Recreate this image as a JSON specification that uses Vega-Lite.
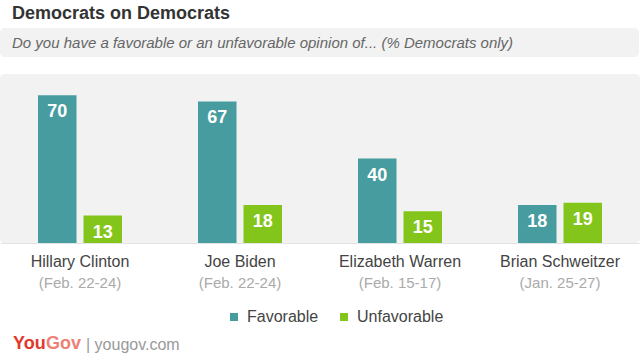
{
  "$schema": "https://vega.github.io/schema/vega-lite/v6.json",
  "padding": {"top": 5, "left": 0, "right": 0, "bottom": 0},
  "background": "white",
  "config": {
    "view": {"stroke": null},
    "font": "Liberation Sans",
    "title": {"font": "Liberation Sans"}
  },
  "title": {
    "text": "Democrats  on Democrats",
    "anchor": "start",
    "dx": 12,
    "fontSize": 18,
    "fontWeight": "bold",
    "color": "#333333",
    "offset": 5
  },
  "spacing": 10,
  "resolve": {"scale": {"color": "independent"}, "legend": {"color": "independent"}},
  "vconcat": [
    {
      "spacing": 17,
      "resolve": {"scale": {"color": "independent"}, "legend": {"color": "independent"}},
      "vconcat": [
        {
          "width": 639,
          "height": 29,
          "view": {"fill": "#f2f2f2", "cornerRadius": 5, "stroke": null},
          "title": {
            "text": "Do you have a favorable or an unfavorable opinion of... (% Democrats only)",
            "anchor": "start",
            "orient": "top",
            "offset": -23,
            "dx": 12,
            "fontSize": 15,
            "fontStyle": "italic",
            "fontWeight": "normal",
            "color": "#666666"
          },
          "data": {"values": [{"box": "subtitle"}]},
          "mark": {"type": "rect", "fill": "#f2f2f2", "cornerRadius": 5},
          "encoding": {}
        },
        {
          "width": 640,
          "height": 169,
          "view": {"fill": "#f2f2f2", "cornerRadius": 4, "stroke": null},
          "data": {
            "values": [
              {"label": "Hillary Clinton|(Feb. 22-24)", "opinion": "Favorable", "value": 70},
              {"label": "Hillary Clinton|(Feb. 22-24)", "opinion": "Unfavorable", "value": 13},
              {"label": "Joe Biden|(Feb. 22-24)", "opinion": "Favorable", "value": 67},
              {"label": "Joe Biden|(Feb. 22-24)", "opinion": "Unfavorable", "value": 18},
              {"label": "Elizabeth Warren|(Feb. 15-17)", "opinion": "Favorable", "value": 40},
              {"label": "Elizabeth Warren|(Feb. 15-17)", "opinion": "Unfavorable", "value": 15},
              {"label": "Brian Schweitzer|(Jan. 25-27)", "opinion": "Favorable", "value": 18},
              {"label": "Brian Schweitzer|(Jan. 25-27)", "opinion": "Unfavorable", "value": 19}
            ]
          },
          "layer": [
            {
              "mark": {"type": "bar"},
              "encoding": {
                "x": {
                  "field": "label", "type": "nominal", "sort": null,
                  "scale": {"paddingInner": 0.475, "paddingOuter": 0.2375},
                  "axis": {
                    "orient": "bottom", "title": null, "labelAngle": 0,
                    "ticks": false, "tickSize": 0, "domain": true, "domainColor": "#e4e4e4", "domainWidth": 1,
                    "labelExpr": "split(datum.value, '|')[0]",
                    "labelFontSize": 16, "labelColor": "#444444", "labelPadding": 10, "labelFont": "Liberation Sans"
                  }
                },
                "xOffset": {"field": "opinion", "type": "nominal", "sort": ["Favorable", "Unfavorable"], "scale": {"paddingInner": 0.154, "paddingOuter": 0}},
                "y": {"field": "value", "type": "quantitative", "scale": {"domain": [0, 80]}, "axis": null},
                "color": {
                  "field": "opinion", "type": "nominal",
                  "scale": {"domain": ["Favorable", "Unfavorable"], "range": ["#479c9f", "#84c51c"]},
                  "legend": {
                    "title": null, "orient": "none", "direction": "horizontal",
                    "legendX": 226, "legendY": 235,
                    "symbolType": "square", "symbolSize": 64, "symbolStrokeWidth": 0,
                    "labelFontSize": 16, "labelColor": "#444444", "labelOffset": 5,
                    "columnPadding": 17, "padding": 0, "labelFont": "Liberation Sans"
                  }
                }
              }
            },
            {
              "mark": {"type": "text", "baseline": "middle", "dy": 17, "color": "white", "fontSize": 18, "fontWeight": "bold"},
              "encoding": {
                "x": {
                  "field": "label", "type": "nominal", "sort": null,
                  "scale": {"paddingInner": 0.475, "paddingOuter": 0.2375},
                  "axis": {
                    "orient": "bottom", "title": null, "labelAngle": 0,
                    "ticks": false, "tickSize": 0, "domain": false,
                    "labelExpr": "split(datum.value, '|')[1]",
                    "labelFontSize": 15, "labelColor": "#aaaaaa", "labelPadding": 32, "labelFont": "Liberation Sans"
                  }
                },
                "xOffset": {"field": "opinion", "type": "nominal", "sort": ["Favorable", "Unfavorable"], "scale": {"paddingInner": 0.154, "paddingOuter": 0}},
                "y": {"field": "value", "type": "quantitative", "scale": {"domain": [0, 80]}, "axis": null},
                "text": {"field": "value", "type": "quantitative"}
              }
            }
          ],
          "resolve": {"axis": {"x": "independent"}}
        }
      ]
    },
    {
      "spacing": 0,
      "hconcat": [
        {
          "width": 1, "height": 1,
          "title": {"text": "You", "anchor": "start", "fontSize": 18, "fontWeight": "bold", "color": "#e2382b", "dx": 13, "offset": 0},
          "data": {"values": []},
          "mark": {"type": "text"},
          "encoding": {}
        },
        {
          "width": 1, "height": 1,
          "title": {"text": "Gov", "anchor": "start", "fontSize": 18, "fontWeight": "bold", "color": "#ee8075", "offset": 0},
          "data": {"values": []},
          "mark": {"type": "text"},
          "encoding": {}
        },
        {
          "width": 1, "height": 1,
          "title": {"text": "| yougov.com", "anchor": "start", "fontSize": 16, "fontWeight": "normal", "color": "#999999", "dx": 4, "offset": 0},
          "data": {"values": []},
          "mark": {"type": "text"},
          "encoding": {}
        }
      ]
    }
  ]
}
